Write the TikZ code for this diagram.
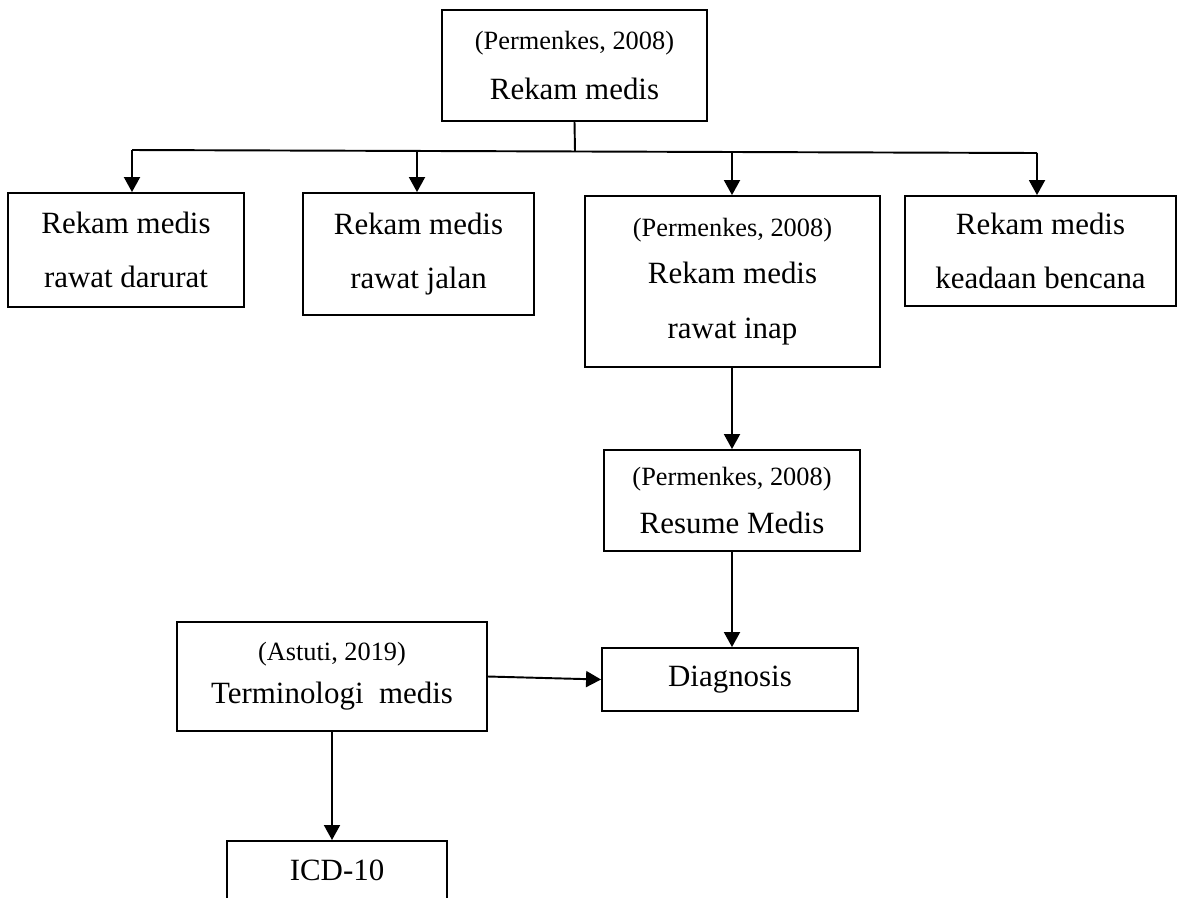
\documentclass[tikz,border=0pt]{standalone}
\usepackage{fontspec}
\setmainfont{Liberation Serif}
\usetikzlibrary{arrows.meta}
\newcommand\citefont{\fontsize{15}{18}\selectfont}
\begin{document}
\begin{tikzpicture}[x=0.02cm,y=-0.02cm,
  box/.style={draw,line width=1.1pt,align=center,inner sep=0pt,font=\fontsize{17.6}{31}\selectfont},
  arr/.style={line width=1.1pt,-{Triangle[length=0.3cm,width=0.32cm]}},
  ln/.style={line width=1.1pt}]
\useasboundingbox (0,0) rectangle (1179,897);
\clip (0,0) rectangle (1179,897);
% boxes
\node[box,minimum width=5.3cm,minimum height=2.22cm] (top) at (574.5,65.5)
  {{\citefont (Permenkes, 2008)}\\[-2.5pt]Rekam medis};
\node[box,minimum width=4.72cm,minimum height=2.28cm] (b1) at (126,250)
  {Rekam medis\\rawat darurat};
\node[box,minimum width=4.62cm,minimum height=2.44cm] (b2) at (418.5,254)
  {Rekam medis\\rawat jalan};
\node[box,minimum width=5.9cm,minimum height=3.42cm] (b3) at (732.5,281.5)
  {{\citefont (Permenkes, 2008)}\\[-4pt]Rekam medis\\rawat inap};
\node[box,minimum width=5.42cm,minimum height=2.2cm] (b4) at (1040.5,251)
  {Rekam medis\\keadaan bencana};
\node[box,minimum width=5.12cm,minimum height=2.02cm] (res) at (732,500.5)
  {{\citefont (Permenkes, 2008)}\\[-4pt]Resume Medis};
\node[box,minimum width=5.12cm,minimum height=1.26cm] (diag) at (730,679.5)
  {Diagnosis};
\node[box,minimum width=6.2cm,minimum height=2.18cm] (term) at (332,676.5)
  {{\citefont (Astuti, 2019)}\\[-6.5pt]Terminologi\ \ medis};
\node[box,minimum width=4.4cm,minimum height=1.16cm,anchor=north] (icd) at (337,840)
  {ICD-10};
% connectors
\coordinate (hub) at (575,151.3);
\coordinate (a1) at (132,150);
\coordinate (a2) at (417,151);
\coordinate (a3) at (732,152);
\coordinate (a4) at (1037,153);
\draw[ln] (top.south) -- (hub);
\draw[ln] (a1) -- (a4);
\draw[arr] (a1) -- (a1 |- b1.north);
\draw[arr] (a2) -- (a2 |- b2.north);
\draw[arr] (a3) -- (a3 |- b3.north);
\draw[arr] (a4) -- (a4 |- b4.north);
\draw[arr] (res.north |- b3.south) -- (res.north);
\draw[arr] (res.south) -- (res.south |- diag.north);
\draw[arr] (term.east) -- (diag.west);
\draw[arr] (term.south) -- (term.south |- icd.north);
\end{tikzpicture}
\end{document}
